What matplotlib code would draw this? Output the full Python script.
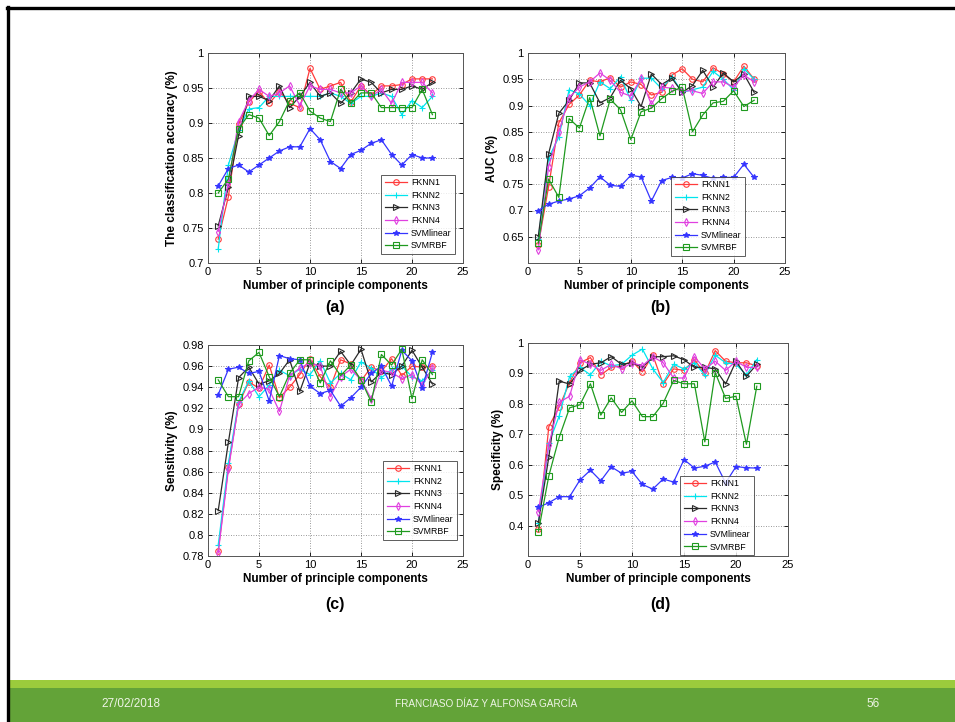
import matplotlib
matplotlib.use("Agg")
import matplotlib.pyplot as plt
from matplotlib.lines import Line2D
from matplotlib.patches import Rectangle
from matplotlib.ticker import FuncFormatter

plt.rcParams['font.family'] = ['Liberation Sans', 'DejaVu Sans']

n_pc = list(range(1, 23))
methods = ["FKNN1", "FKNN2", "FKNN3", "FKNN4", "SVMlinear", "SVMRBF"]

# (a) classification accuracy
acc = {
    "FKNN1": [0.734, 0.795, 0.898, 0.930, 0.945, 0.928, 0.945, 0.928, 0.922, 0.978, 0.948,
              0.953, 0.958, 0.930, 0.953, 0.940, 0.953, 0.953, 0.955, 0.963, 0.963, 0.963],
    "FKNN2": [0.720, 0.840, 0.890, 0.920, 0.922, 0.938, 0.938, 0.938, 0.938, 0.938, 0.938,
              0.943, 0.938, 0.928, 0.938, 0.938, 0.943, 0.938, 0.912, 0.932, 0.922, 0.938],
    "FKNN3": [0.753, 0.808, 0.882, 0.938, 0.938, 0.932, 0.953, 0.922, 0.938, 0.958, 0.938,
              0.943, 0.928, 0.943, 0.963, 0.958, 0.943, 0.948, 0.948, 0.953, 0.948, 0.958],
    "FKNN4": [0.745, 0.815, 0.902, 0.932, 0.948, 0.938, 0.943, 0.953, 0.925, 0.953, 0.948,
              0.948, 0.943, 0.943, 0.953, 0.938, 0.948, 0.928, 0.958, 0.958, 0.958, 0.943],
    "SVMlinear": [0.810, 0.835, 0.840, 0.830, 0.840, 0.850, 0.860, 0.866, 0.866, 0.892, 0.876,
                  0.845, 0.835, 0.855, 0.861, 0.871, 0.876, 0.855, 0.840, 0.855, 0.850, 0.850],
    "SVMRBF": [0.800, 0.820, 0.892, 0.912, 0.907, 0.882, 0.902, 0.932, 0.943, 0.917, 0.907,
               0.902, 0.948, 0.928, 0.943, 0.943, 0.922, 0.922, 0.922, 0.922, 0.948, 0.912],
}

# (b) AUC
auc = {
    "FKNN1": [0.635, 0.745, 0.867, 0.902, 0.920, 0.948, 0.945, 0.953, 0.935, 0.945, 0.940,
              0.920, 0.925, 0.958, 0.970, 0.950, 0.945, 0.972, 0.960, 0.945, 0.975, 0.950],
    "FKNN2": [0.645, 0.800, 0.840, 0.930, 0.922, 0.900, 0.945, 0.932, 0.955, 0.910, 0.952,
              0.952, 0.932, 0.955, 0.925, 0.930, 0.935, 0.965, 0.950, 0.930, 0.970, 0.950],
    "FKNN3": [0.650, 0.808, 0.885, 0.910, 0.943, 0.943, 0.905, 0.915, 0.948, 0.932, 0.898,
              0.960, 0.940, 0.952, 0.925, 0.938, 0.967, 0.935, 0.962, 0.945, 0.960, 0.925],
    "FKNN4": [0.625, 0.783, 0.850, 0.915, 0.935, 0.945, 0.962, 0.948, 0.925, 0.918, 0.952,
              0.902, 0.935, 0.933, 0.928, 0.928, 0.923, 0.945, 0.945, 0.935, 0.958, 0.945],
    "SVMlinear": [0.700, 0.712, 0.718, 0.722, 0.728, 0.743, 0.764, 0.748, 0.746, 0.767, 0.764,
                  0.718, 0.757, 0.763, 0.762, 0.770, 0.767, 0.761, 0.763, 0.763, 0.788, 0.763],
    "SVMRBF": [0.638, 0.760, 0.725, 0.875, 0.857, 0.915, 0.842, 0.912, 0.892, 0.835, 0.888,
               0.895, 0.913, 0.927, 0.935, 0.850, 0.882, 0.905, 0.908, 0.928, 0.898, 0.910],
}

# (c) sensitivity
sens = {
    "FKNN1": [0.785, 0.864, 0.924, 0.945, 0.939, 0.961, 0.930, 0.940, 0.952, 0.967, 0.950,
              0.940, 0.966, 0.962, 0.946, 0.959, 0.955, 0.967, 0.951, 0.960, 0.959, 0.960],
    "FKNN2": [0.790, 0.868, 0.926, 0.946, 0.931, 0.942, 0.956, 0.951, 0.957, 0.952, 0.965,
              0.944, 0.953, 0.947, 0.964, 0.958, 0.949, 0.957, 0.960, 0.950, 0.946, 0.956],
    "FKNN3": [0.823, 0.888, 0.949, 0.959, 0.943, 0.946, 0.953, 0.966, 0.936, 0.963, 0.960,
              0.960, 0.974, 0.961, 0.976, 0.945, 0.954, 0.952, 0.960, 0.975, 0.959, 0.943],
    "FKNN4": [0.783, 0.862, 0.924, 0.934, 0.940, 0.938, 0.917, 0.951, 0.958, 0.963, 0.960,
              0.931, 0.950, 0.957, 0.947, 0.929, 0.956, 0.954, 0.948, 0.952, 0.942, 0.958],
    "SVMlinear": [0.933, 0.957, 0.959, 0.953, 0.955, 0.927, 0.970, 0.967, 0.966, 0.941, 0.934,
                  0.937, 0.922, 0.930, 0.940, 0.953, 0.960, 0.941, 0.975, 0.965, 0.939, 0.973],
    "SVMRBF": [0.947, 0.931, 0.931, 0.965, 0.973, 0.950, 0.931, 0.953, 0.966, 0.966, 0.944,
               0.965, 0.951, 0.961, 0.947, 0.926, 0.971, 0.961, 0.976, 0.929, 0.966, 0.952],
}

# (d) specificity
spec = {
    "FKNN1": [0.390, 0.725, 0.790, 0.870, 0.935, 0.952, 0.895, 0.920, 0.925, 0.940, 0.905,
              0.960, 0.865, 0.915, 0.910, 0.945, 0.900, 0.975, 0.940, 0.935, 0.935, 0.925],
    "FKNN2": [0.410, 0.670, 0.760, 0.890, 0.920, 0.895, 0.940, 0.925, 0.930, 0.960, 0.980,
              0.915, 0.870, 0.930, 0.915, 0.935, 0.895, 0.960, 0.935, 0.930, 0.895, 0.945],
    "FKNN3": [0.410, 0.625, 0.875, 0.865, 0.910, 0.930, 0.935, 0.955, 0.930, 0.935, 0.920,
              0.955, 0.955, 0.958, 0.945, 0.920, 0.920, 0.915, 0.865, 0.940, 0.890, 0.930],
    "FKNN4": [0.445, 0.665, 0.805, 0.825, 0.945, 0.930, 0.910, 0.930, 0.915, 0.935, 0.925,
              0.955, 0.935, 0.885, 0.885, 0.955, 0.915, 0.940, 0.910, 0.940, 0.920, 0.920],
    "SVMlinear": [0.460, 0.475, 0.495, 0.495, 0.550, 0.582, 0.547, 0.593, 0.572, 0.578, 0.535,
                  0.520, 0.553, 0.543, 0.617, 0.589, 0.595, 0.609, 0.540, 0.594, 0.590, 0.589],
    "SVMRBF": [0.380, 0.563, 0.690, 0.787, 0.797, 0.866, 0.763, 0.820, 0.772, 0.810, 0.758,
               0.758, 0.802, 0.877, 0.866, 0.866, 0.675, 0.903, 0.818, 0.825, 0.667, 0.858],
}

styles = {
    "FKNN1": dict(color="#ff3b3b", marker="o", mfc="none"),
    "FKNN2": dict(color="#00e5ee", marker="+", mfc="none"),
    "FKNN3": dict(color="#2a2a2a", marker=">", mfc="none"),
    "FKNN4": dict(color="#e040e0", marker="d", mfc="none"),
    "SVMlinear": dict(color="#3535ff", marker="*", mfc="#3535ff"),
    "SVMRBF": dict(color="#1f9a1f", marker="s", mfc="none"),
}

fig = plt.figure(figsize=(9.55, 7.22), dpi=100)
W, H = 955, 722

def px_axes(l, t, r, b):
    return fig.add_axes([l / W, 1 - b / H, (r - l) / W, (b - t) / H])

panels = [
    # data, ylabel, ylim, yticks, axes box (px), legend anchor (px), caption pos (px)
    (acc, "The classification accuracy (%)", (0.7, 1.0), [0.7, 0.75, 0.8, 0.85, 0.9, 0.95, 1.0],
     (208, 53, 463, 263), (455, 254), (335, 308), "(a)"),
    (auc, "AUC (%)", (0.6, 1.0), [0.65, 0.7, 0.75, 0.8, 0.85, 0.9, 0.95, 1.0],
     (528, 53, 785, 263), (745, 256), (660, 308), "(b)"),
    (sens, "Sensitivity (%)", (0.78, 0.98), [0.78, 0.8, 0.82, 0.84, 0.86, 0.88, 0.9, 0.92, 0.94, 0.96, 0.98],
     (208, 345, 463, 556), (457, 540), (335, 604), "(c)"),
    (spec, "Specificity (%)", (0.3, 1.0), [0.4, 0.5, 0.6, 0.7, 0.8, 0.9, 1.0],
     (528, 343, 788, 556), (754, 555), (660, 604), "(d)"),
]

fmt = FuncFormatter(lambda v, p: "%g" % round(v, 3))

for data, ylab, ylim, yt, box, lg, cap, name in panels:
    ax = px_axes(*box)
    for m in methods:
        ax.plot(n_pc, data[m], label=m, lw=0.9, ms=4.0, mew=0.8, **styles[m])
    ax.set_xlim(0, 25)
    ax.set_ylim(*ylim)
    ax.set_xticks([0, 5, 10, 15, 20, 25])
    ax.set_yticks(yt)
    ax.yaxis.set_major_formatter(fmt)
    ax.tick_params(direction="in", length=3, width=0.6, labelsize=8, pad=3,
                   top=True, right=True)
    ax.grid(True, ls=(0, (1, 2)), color="#777777", lw=0.6)
    for s in ax.spines.values():
        s.set_linewidth(0.7)
        s.set_color("#555555")
    ax.set_xlabel("Number of principle components", fontsize=8.5, fontweight="bold", labelpad=2)
    ax.set_ylabel(ylab, fontsize=8.5, fontweight="bold", labelpad=3)
    leg = ax.legend(loc="lower right", bbox_to_anchor=(lg[0] / W, 1 - lg[1] / H),
                    bbox_transform=fig.transFigure, fontsize=6.3, frameon=True, fancybox=False,
                    handlelength=2.6, borderpad=0.4, labelspacing=0.42, handletextpad=0.4,
                    borderaxespad=0)
    leg.get_frame().set_edgecolor("#333333")
    leg.get_frame().set_linewidth(0.7)
    fig.text(cap[0] / W, 1 - cap[1] / H, name, fontsize=11.5, fontweight="bold",
             ha="center", va="center")

# slide frame and footer
fig.add_artist(Line2D([6.5 / W, 1], [1 - 8 / H, 1 - 8 / H], color="black", lw=2.4,
                      transform=fig.transFigure))
fig.add_artist(Line2D([7.5 / W, 7.5 / W], [0, 1 - 7 / H], color="black", lw=2.4,
                      transform=fig.transFigure))
fig.add_artist(Rectangle((9 / W, 0), 1, 34 / H, transform=fig.transFigure,
                         color="#63a338", lw=0, zorder=1))
fig.add_artist(Rectangle((9 / W, 34 / H), 1, 8 / H, transform=fig.transFigure,
                         color="#9bcb3c", lw=0, zorder=1))

footer_font = ["Liberation Sans Narrow", "Liberation Sans", "DejaVu Sans"]
fig.text(131 / W, 1 - 704 / H, "27/02/2018", family=footer_font, fontsize=8.5,
         color="#eef4e6", ha="center", va="center")
fig.text(486 / W, 1 - 704 / H, "FRANCIASO DÍAZ Y ALFONSA GARCÍA", family=footer_font,
         fontsize=7.2, color="#eef4e6", ha="center", va="center")
fig.text(873 / W, 1 - 704 / H, "56", family=footer_font, fontsize=8.5,
         color="#eef4e6", ha="center", va="center")

fig.savefig("out.png", dpi=100)
